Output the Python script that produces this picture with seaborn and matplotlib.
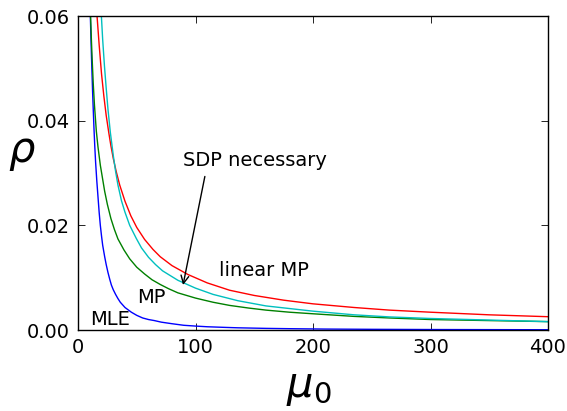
import numpy as np
import pandas as pd
import matplotlib
matplotlib.use("Agg")
import matplotlib.pyplot as plt
import seaborn as sns

# curve values (mu_0, rho)
mu_lin = [16.2, 18.0, 20.0, 22.0, 24.0, 26.2, 28.0, 30.0, 32.5, 35.5, 40.0, 45.0,
          50.0, 56.7, 63.8, 70.0, 80.0, 93.6, 110.0, 129.0, 150.0, 175.0, 200.0,
          235.0, 265.0, 300.0, 350.0, 400.0]
rho_lin = [0.0600, 0.0545, 0.0490, 0.0447, 0.0410, 0.0377, 0.0352, 0.0328, 0.0303,
           0.0277, 0.0246, 0.0218, 0.0196, 0.0173, 0.0154, 0.0140, 0.0123, 0.0106,
           0.0090, 0.0076, 0.0066, 0.0057, 0.0050, 0.0043, 0.0038, 0.0034, 0.0029,
           0.00254]

mu_sdp = [19.9, 21.0, 22.5, 24.0, 25.5, 27.5, 30.0, 32.0, 34.0, 37.0, 40.0, 44.0,
          49.6, 54.0, 60.0, 66.0, 72.0, 85.0, 100.0, 115.0, 136.0, 160.0, 200.0,
          235.0, 265.0, 300.0, 350.0, 400.0]
rho_sdp = [0.0600, 0.0555, 0.0505, 0.0462, 0.0422, 0.0378, 0.0334, 0.0303, 0.0277,
           0.0247, 0.0225, 0.0200, 0.0175, 0.0157, 0.0139, 0.0125, 0.0113, 0.0095,
           0.0080, 0.0068, 0.0056, 0.0046, 0.0036, 0.0029, 0.0025, 0.0022, 0.0019,
           0.0016]

mu_mp = [10.7, 11.3, 12.0, 13.0, 14.0, 15.6, 17.0, 19.0, 22.7, 25.0, 28.0, 31.0,
         34.0, 39.1, 44.0, 50.0, 56.7, 63.0, 70.0, 77.0, 85.0, 100.0, 115.0, 129.0,
         145.0, 160.0, 180.0, 200.0, 235.0, 265.0, 300.0, 350.0, 400.0]
rho_mp = [0.0600, 0.0560, 0.0520, 0.0470, 0.0430, 0.0380, 0.0350, 0.0315, 0.0265,
          0.0240, 0.0213, 0.0192, 0.0174, 0.0153, 0.0136, 0.0120, 0.0107, 0.0096,
          0.0087, 0.0079, 0.0071, 0.0061, 0.0053, 0.0047, 0.0042, 0.0038, 0.0034,
          0.0031, 0.0026, 0.0023, 0.0020, 0.0018, 0.0016]

mu_mle = [10.5, 11.0, 11.5, 12.0, 12.5, 13.0, 13.6, 14.3, 15.0, 16.0, 17.0, 18.0,
          19.0, 20.0, 21.0, 22.7, 24.0, 25.5, 27.0, 28.4, 30.0, 32.0, 34.0, 36.0,
          38.0, 40.0, 43.0, 45.4, 50.0, 55.0, 60.0, 65.0, 70.9, 80.0, 90.0, 100.0,
          110.0, 125.0, 136.0, 160.0, 180.0, 210.0, 250.0, 300.0, 350.0, 400.0]
rho_mle = [0.0600, 0.0560, 0.0520, 0.0485, 0.0450, 0.0420, 0.0385, 0.0350, 0.0320,
           0.0285, 0.0255, 0.0225, 0.0200, 0.0180, 0.0162, 0.0140, 0.0125, 0.0110,
           0.0097, 0.0086, 0.0077, 0.0068, 0.0060, 0.0053, 0.0048, 0.0043, 0.0038,
           0.0034, 0.0028, 0.0023, 0.0020, 0.0018, 0.0015, 0.0012, 0.0009, 0.00075,
           0.00062, 0.0005, 0.00042, 0.00031, 0.00025, 0.00018, 0.00013, 0.00009,
           0.00007, 0.00005]

sns.set_style("ticks")
plt.rcParams['font.family'] = ['DejaVu Sans']
plt.rcParams['mathtext.fontset'] = 'dejavusans'
plt.rcParams['text.color'] = 'black'
plt.rcParams['axes.labelcolor'] = 'black'

fig = plt.figure(figsize=(5.67, 4.11), dpi=100)
ax = fig.add_axes([78 / 567, 1 - 330 / 411, 470 / 567, 314 / 411])

sns.lineplot(x=mu_mle, y=rho_mle, color='#0000ff', lw=1.0, ax=ax)
sns.lineplot(x=mu_mp, y=rho_mp, color='#008000', lw=1.0, ax=ax)
sns.lineplot(x=mu_lin, y=rho_lin, color='#ff0000', lw=1.0, ax=ax)
sns.lineplot(x=mu_sdp, y=rho_sdp, color='#00bfbf', lw=1.0, ax=ax)

ax.set_xlim(0, 400)
ax.set_ylim(0, 0.06)
ax.set_xticks([0, 100, 200, 300, 400])
ax.set_yticks([0.0, 0.02, 0.04, 0.06])
ax.set_yticklabels(['0.00', '0.02', '0.04', '0.06'])
ax.tick_params(direction='in', top=True, right=True, length=5, width=0.6,
               labelsize=14, pad=6, colors='black')
for s in ax.spines.values():
    s.set_color('black')
    s.set_linewidth(1.0)

ax.set_xlabel(r'$\mu_0$', fontsize=30, color='black')
ax.set_ylabel(r'$\rho$', fontsize=30, rotation=0, color='black')
ax.yaxis.set_label_coords(-0.119, 0.5)
ax.xaxis.set_label_coords(0.49, -0.115)

ax.text(10.2, 0.0021, 'MLE', fontsize=14, va='center', color='black')
ax.text(50.2, 0.0062, 'MP', fontsize=14, va='center', color='black')
ax.text(120, 0.0114, 'linear MP', fontsize=14, va='center', color='black')
ax.annotate('SDP necessary', xy=(89.4, 0.0086), xytext=(89.4, 0.0323),
            fontsize=14, va='center', ha='left', color='black',
            arrowprops=dict(arrowstyle='->', color='black', lw=1.0,
                            relpos=(0.16, 0.0), shrinkA=2, shrinkB=0))

fig.savefig('out.png', dpi=100)
